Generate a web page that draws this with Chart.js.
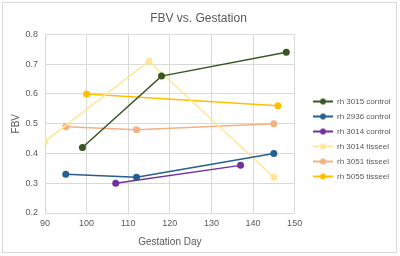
<!DOCTYPE html>
<html>
<head>
<meta charset="utf-8">
<script src="https://cdn.jsdelivr.net/npm/chart.js@4/dist/chart.umd.min.js"></script>
<style>
  html, body { margin: 0; padding: 0; background: #fff; }
  #wrap { width: 400px; height: 256px; }
</style>
</head>
<body>
<div id="wrap"><canvas id="chart" width="400" height="256"></canvas></div>
<script>
/* series data: gestation day / FBV */
const labels = ["rh 3015 control", "rh 2936 control", "rh 3014 control",
                "rh 3014 tisseel", "rh 3051 tisseel", "rh 5055 tisseel"];
const days3015c = [99, 118, 148];
const fbv3015c = [0.42, 0.66, 0.74];
const days2936c = [95, 112, 145];
const fbv2936c = [0.33, 0.32, 0.40];
const days3014c = [107, 137];
const fbv3014c = [0.30, 0.36];
const days3014t = [90, 115, 145];
const fbv3014t = [0.44, 0.71, 0.32];
const days3051t = [95, 112, 145];
const fbv3051t = [0.49, 0.48, 0.50];
const days5055t = [100, 146];
const fbv5055t = [0.60, 0.56];

const colors = ["#385723", "#255E91", "#7030A0", "#FFE699", "#F4B183", "#FFC000"];

const font = "'Liberation Sans', Arial, sans-serif";
const grey = "#595959";

const pairs = (xs, ys) => xs.map((x, i) => ({ x: x, y: ys[i] }));
const series = [
    pairs(days3015c, fbv3015c),
    pairs(days2936c, fbv2936c),
    pairs(days3014c, fbv3014c),
    pairs(days3014t, fbv3014t),
    pairs(days3051t, fbv3051t),
    pairs(days5055t, fbv5055t),
];

/* little line-with-dot icons for the legend, like Excel draws them */
const legendIcons = colors.map((c) => {
    const cv = document.createElement("canvas");
    cv.width = 20;
    cv.height = 8;
    const g = cv.getContext("2d");
    g.strokeStyle = c;
    g.lineWidth = 2;
    g.beginPath();
    g.moveTo(0, 4);
    g.lineTo(20, 4);
    g.stroke();
    g.fillStyle = c;
    g.beginPath();
    g.arc(10, 4, 3, 0, Math.PI * 2);
    g.fill();
    return cv;
});

const datasets = series.map((data, i) => ({
    label: labels[i],
    data: data,
    borderColor: colors[i],
    backgroundColor: colors[i],
    borderWidth: 1.5,
    pointRadius: 3.5,
    pointBorderWidth: 0,
    tension: 0,
}));

/* outer frame + put the legend where Excel had it */
const framePlugin = {
    id: "frame",
    afterLayout(chart) {
        const lg = chart.legend;
        const w = lg.right - lg.left;
        const h = lg.bottom - lg.top;
        lg.left = 306;
        lg.right = lg.left + w;
        lg.top = 139 - h / 2;
        lg.bottom = lg.top + h;
    },
    beforeDraw(chart) {
        const c = chart.ctx;
        c.save();
        c.strokeStyle = "#d9d9d9";
        c.lineWidth = 1;
        c.strokeRect(2.5, 2.5, 394, 250);
        c.restore();
    },
};

new Chart(document.getElementById("chart"), {
    type: "line",
    data: { datasets: datasets },
    plugins: [framePlugin],
    options: {
        responsive: false,
        animation: false,
        layout: { padding: { left: 8, right: 11, top: 0, bottom: 8 } },
        plugins: {
            title: {
                display: true,
                text: "FBV vs. Gestation",
                color: grey,
                font: { family: font, size: 12, weight: "normal" },
                padding: { top: 11, bottom: 9 },
            },
            legend: {
                position: "right",
                align: "center",
                labels: {
                    usePointStyle: true,
                    pointStyleWidth: 20,
                    boxHeight: 8.5,
                    padding: 7,
                    color: grey,
                    font: { family: font, size: 8 },
                    generateLabels(chart) {
                        const items = Chart.defaults.plugins.legend.labels.generateLabels(chart);
                        items.forEach((it, i) => { it.pointStyle = legendIcons[i]; });
                        return items;
                    },
                },
            },
            tooltip: { enabled: false },
        },
        scales: {
            x: {
                type: "linear",
                min: 90,
                max: 150,
                ticks: { stepSize: 10, color: grey, font: { family: font, size: 9 }, padding: 5 },
                grid: { color: "#d9d9d9", drawTicks: false },
                border: { display: false },
                title: {
                    display: true,
                    text: "Gestation Day",
                    color: grey,
                    font: { family: font, size: 10 },
                    padding: { top: 4, bottom: 0 },
                },
                afterFit(scale) { scale.height = 35; },
            },
            y: {
                min: 0.2,
                max: 0.8,
                ticks: {
                    stepSize: 0.1,
                    color: grey,
                    font: { family: font, size: 9 },
                    padding: 7,
                    callback: (v) => v.toFixed(1),
                },
                grid: { color: "#d9d9d9", drawTicks: false },
                border: { display: false },
                title: {
                    display: true,
                    text: "FBV",
                    color: grey,
                    font: { family: font, size: 10 },
                    padding: { top: 2, bottom: 4 },
                },
                afterFit(scale) { scale.width = 37; },
            },
        },
    },
});
</script>
</body>
</html>
